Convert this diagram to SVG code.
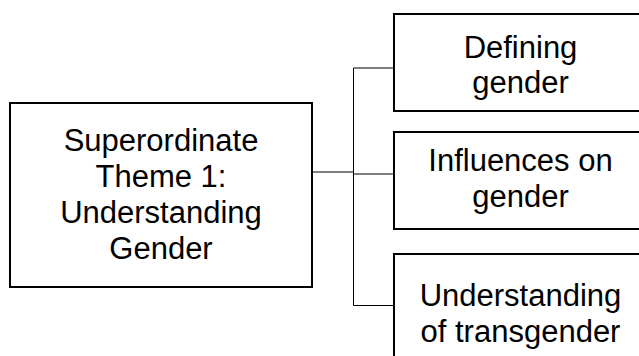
<svg xmlns="http://www.w3.org/2000/svg" width="639" height="356" viewBox="0 0 639 356">
<style>
.box{fill:#fff;stroke:#000;stroke-width:2}
.t{font-family:"Liberation Sans",Arial,sans-serif;font-size:31px;fill:#000;text-anchor:middle}
.c{fill:none;stroke:#000;stroke-width:1}
</style>
<rect width="639" height="356" fill="#fff"/>
<g id="connectors">
<path class="c" d="M312.5 172H353.5M353.5 68V305.5M353.5 68H394M353.5 174H394M353.5 305.5H394"/>
</g>
<g id="main">
<rect class="box" x="10" y="103" width="302" height="184"/>
<text class="t" x="161" y="151">Superordinate</text>
<text class="t" x="161" y="187">Theme 1:</text>
<text class="t" x="161" y="223">Understanding</text>
<text class="t" x="161" y="259">Gender</text>
</g>
<g id="defining">
<rect class="box" x="394" y="14" width="260" height="97"/>
<text class="t" x="520.5" y="58">Defining</text>
<text class="t" x="520.5" y="93">gender</text>
</g>
<g id="influences">
<rect class="box" x="394" y="132" width="260" height="97"/>
<text class="t" x="520.5" y="171">Influences on</text>
<text class="t" x="520.5" y="207">gender</text>
</g>
<g id="transgender">
<rect class="box" x="394" y="254" width="260" height="120"/>
<text class="t" x="520.5" y="306">Understanding</text>
<text class="t" x="520.5" y="342">of transgender</text>
</g>
</svg>
